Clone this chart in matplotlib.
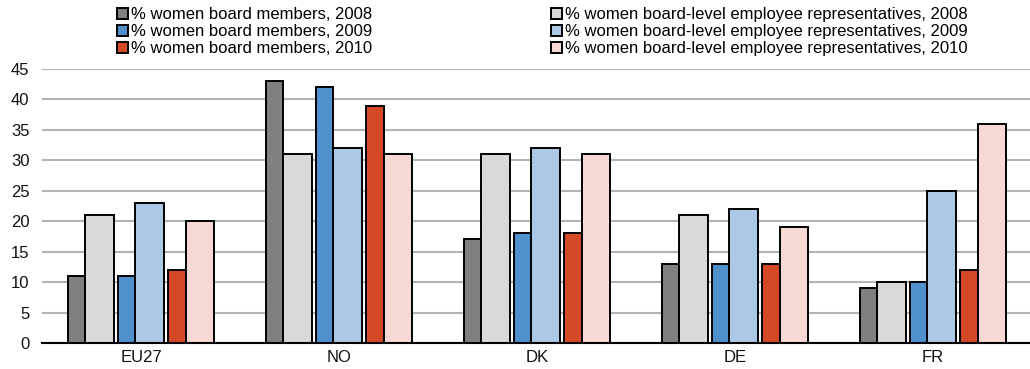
import numpy as np
import matplotlib
import matplotlib.pyplot as plt
from matplotlib.patches import Patch

matplotlib.use('Agg')
plt.rcParams['font.family'] = ['Liberation Sans', 'DejaVu Sans']

countries = ['EU27', 'NO', 'DK', 'DE', 'FR']
years = ['2008', '2009', '2010']

board_2008 = [11, 43, 17, 13, 9]
board_2009 = [11, 42, 18, 13, 10]
board_2010 = [12, 39, 18, 13, 12]
rep_2008 = [21, 31, 31, 21, 10]
rep_2009 = [23, 32, 32, 22, 25]
rep_2010 = [20, 31, 31, 19, 36]

board_colors = ['#808080', '#4f90cd', '#d44a26']
rep_colors = ['#d9d9d9', '#abc9e6', '#f7d9d4']

fig = plt.figure(figsize=(10.30, 3.69), dpi=100)
ax = fig.add_axes([42 / 1030, 1 - 343 / 369, 990 / 1030, 274 / 369])

x = np.arange(len(countries))
pair_offsets = [-0.254, 0.0, 0.254]
board_w = 0.088
rep_w = 0.144
pair_w = board_w + rep_w

board_handles, rep_handles = [], []
for off, bv, rv, bc, rc, yr in zip(pair_offsets,
                                    [board_2008, board_2009, board_2010],
                                    [rep_2008, rep_2009, rep_2010],
                                    board_colors, rep_colors, years):
    left = x + off - pair_w / 2
    ax.bar(left, bv, width=board_w, align='edge', color=bc,
           edgecolor='black', linewidth=1.4, zorder=3)
    ax.bar(left + board_w, rv, width=rep_w, align='edge', color=rc,
           edgecolor='black', linewidth=1.4, zorder=3)
    board_handles.append(Patch(facecolor=bc, edgecolor='black', linewidth=1.4,
                               label=f'% women board members, {yr}'))
    rep_handles.append(Patch(facecolor=rc, edgecolor='black', linewidth=1.4,
                             label='% women board-level employee '
                                   f'representatives, {yr}'))

ax.set_xlim(-0.5, 4.5)
ax.set_ylim(0, 45)
ax.set_yticks(range(0, 50, 5))
ax.set_xticks(x)
ax.set_xticklabels(countries)
ax.yaxis.grid(True, color='#b3b3b3', linewidth=1.5, zorder=0)
ax.set_axisbelow(True)
for side in ['top', 'right', 'left']:
    ax.spines[side].set_visible(False)
ax.spines['bottom'].set_linewidth(1.5)
ax.spines['bottom'].set_zorder(4)
ax.tick_params(axis='both', length=0, labelsize=12, colors='#111111',
               pad=5)
ax.tick_params(axis='y', pad=9)

leg_kw = dict(frameon=False, fontsize=12, handlelength=0.65,
              handleheight=0.65, handletextpad=0.2, labelspacing=0.13,
              borderpad=0, borderaxespad=0)
fig.legend(handles=board_handles, loc='upper left',
           bbox_to_anchor=(117 / 1030, 1 - 7 / 369), **leg_kw)
fig.legend(handles=rep_handles, loc='upper left',
           bbox_to_anchor=(551 / 1030, 1 - 7 / 369), **leg_kw)

fig.savefig('out.png', dpi=100)
